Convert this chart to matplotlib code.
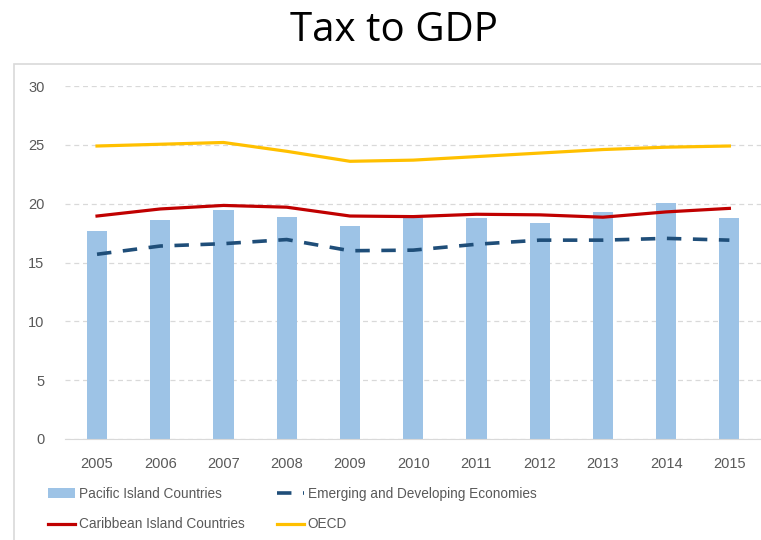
import numpy as np
import matplotlib
matplotlib.use('Agg')
from matplotlib import pyplot as plt
from matplotlib.patches import Rectangle

years = ['2005', '2006', '2007', '2008', '2009', '2010', '2011', '2012', '2013', '2014', '2015']
pacific = [17.7, 18.65, 19.5, 18.85, 18.1, 18.8, 18.8, 18.35, 19.3, 20.05, 18.8]
emerging = [15.7, 16.4, 16.6, 16.95, 16.0, 16.05, 16.55, 16.9, 16.9, 17.05, 16.9]
caribbean = [18.95, 19.55, 19.85, 19.7, 18.95, 18.9, 19.1, 19.05, 18.85, 19.3, 19.6]
oecd = [24.9, 25.05, 25.2, 24.45, 23.6, 23.7, 24.0, 24.3, 24.6, 24.8, 24.9]

plt.rcParams['font.family'] = ['Liberation Sans', 'DejaVu Sans']

fig = plt.figure(figsize=(7.61, 5.40), dpi=100)
fig.patches.append(Rectangle((14/761, -0.1), 2, 1 - 64/540 + 0.1, transform=fig.transFigure,
                             fill=False, edgecolor='#d9d9d9', linewidth=1.2))
fig.text(394/761, 1 - 31/540, 'Tax to GDP', ha='center', va='center', fontsize=29, color='black',
         family=['Open Sans', 'DejaVu Sans'])

ax = fig.add_axes([65.4/761, 1 - 439/540, 1 - 65.4/761, (439 - 86)/540])
x = np.arange(len(years))
b = ax.bar(x, pacific, width=0.32, color='#9dc3e6', label='Pacific Island Countries', zorder=2)
e, = ax.plot(x, emerging, color='#1f4e79', lw=2.6, dashes=(4, 3.2), label='Emerging and Developing Economies', zorder=3)
c, = ax.plot(x, caribbean, color='#c00000', lw=2.3, label='Caribbean Island Countries', zorder=3)
o, = ax.plot(x, oecd, color='#ffc000', lw=2.3, label='OECD', zorder=3)

ax.set_xlim(-0.5, len(years) - 0.5)
ax.set_ylim(0, 30)
ax.set_yticks([0, 5, 10, 15, 20, 25, 30])
ax.set_xticks(x)
ax.set_xticklabels(years)
ax.yaxis.grid(True, color='#d9d9d9', linestyle=(0, (4, 3)), lw=0.9, zorder=0)
for s in ['top', 'right', 'left']:
    ax.spines[s].set_visible(False)
ax.spines['bottom'].set_color('#d9d9d9')
ax.tick_params(length=0, labelsize=10.5, colors='#595959', pad=13)
ax.tick_params(axis='y', pad=15)

leg = fig.legend([b, c, e, o],
                 ['Pacific Island Countries', 'Caribbean Island Countries',
                  'Emerging and Developing Economies', 'OECD'],
                 ncol=2, loc='upper left', bbox_to_anchor=(48/761, 1 - 487/540),
                 frameon=False, fontsize=9.8, handlelength=2.0, handletextpad=0.25,
                 columnspacing=2.4, labelspacing=1.2, labelcolor='#595959',
                 borderpad=0, borderaxespad=0)

fig.savefig('out.png', dpi=100)
